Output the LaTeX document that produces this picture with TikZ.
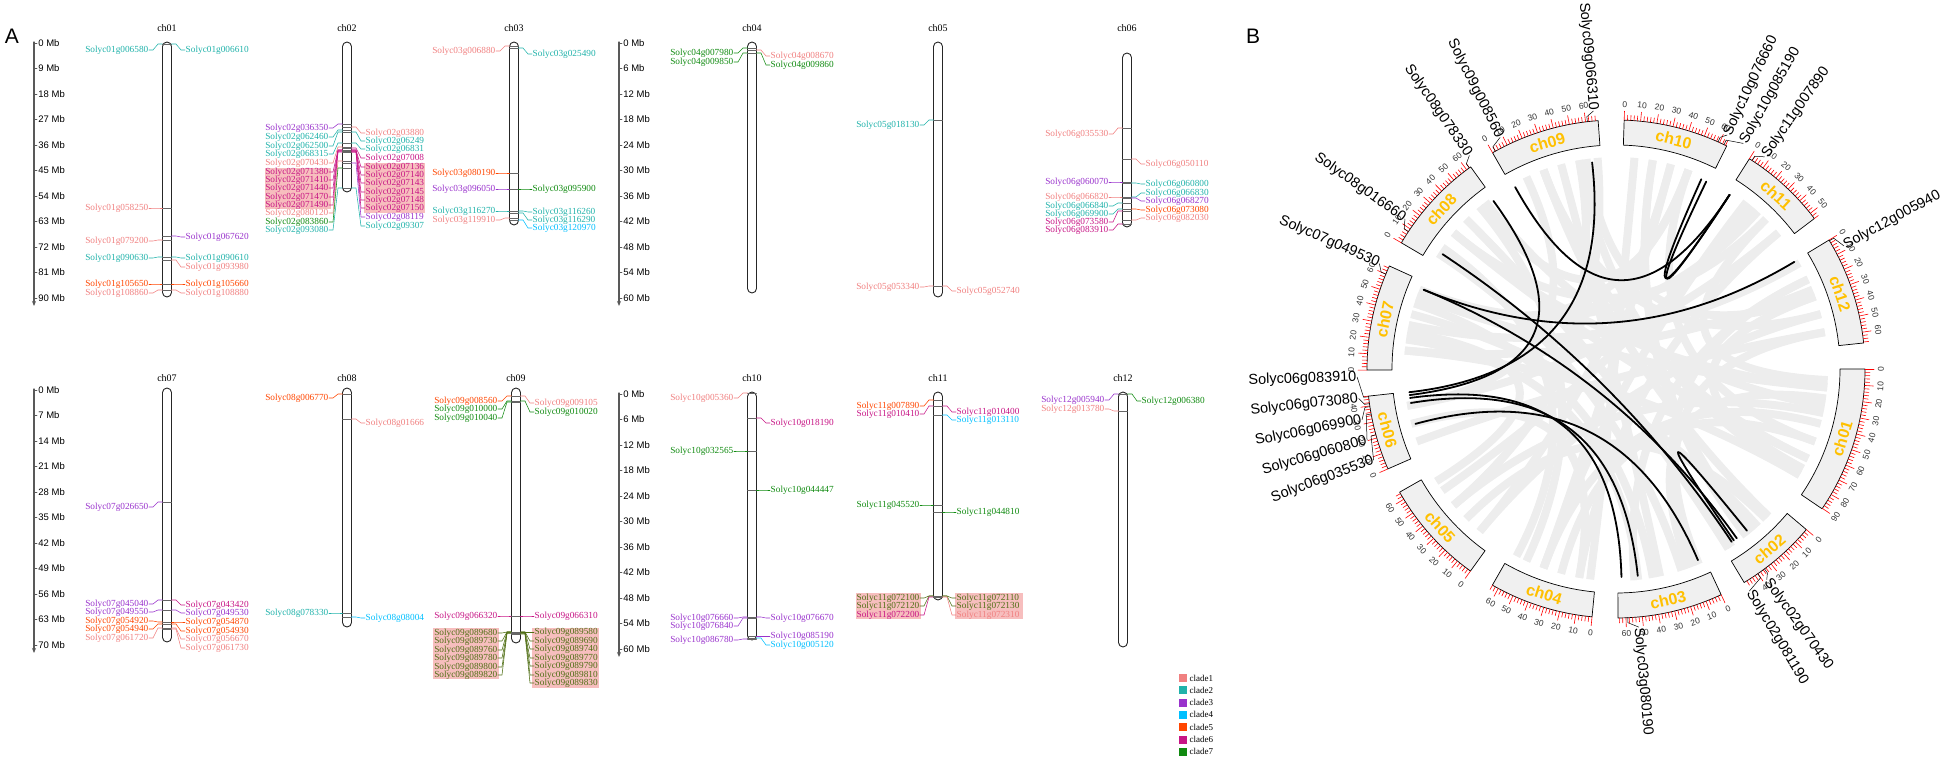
\documentclass[tikz,border=0pt]{standalone}
\usepackage{fontspec}
\setmainfont{Liberation Serif}
\setsansfont{Liberation Sans}
\usetikzlibrary{arrows.meta}
\definecolor{clade1}{HTML}{F08080}
\definecolor{clade2}{HTML}{20B2AA}
\definecolor{clade3}{HTML}{9932CC}
\definecolor{clade4}{HTML}{00BFFF}
\definecolor{clade5}{HTML}{FF4500}
\definecolor{clade6}{HTML}{C71585}
\definecolor{clade7}{HTML}{108A10}
\definecolor{olive7}{HTML}{4F6E14}
\definecolor{hlpink}{HTML}{F7BEBE}
\definecolor{chgold}{HTML}{FFC000}
\begin{document}
\begin{tikzpicture}[x=1pt,y=-1pt,line cap=round,line join=round,
  every node/.style={inner sep=0.5pt},
  chrom/.style={draw=black!85,line width=0.9pt,rounded corners=4.5pt},
  marker/.style={draw=black!60,line width=0.7pt},
  glink/.style={line width=0.55pt},
  gname/.style={font=\fontsize{9.3}{9.3}\selectfont,inner ysep=0pt,
    text height=6.2pt,text depth=1.8pt},
  chtitle/.style={font=\fontsize{10}{10}\selectfont},
  mbaxis/.style={draw=black!65,line width=1.3pt},
  mbtext/.style={font=\sffamily\fontsize{9.5}{9.5}\selectfont,inner sep=1pt},
  legtext/.style={font=\fontsize{9}{9}\selectfont},
  panel/.style={font=\sffamily\fontsize{21}{21}\selectfont},
  ribbon/.style={draw=gray!14,line width=8pt,line cap=butt},
  blink/.style={draw=black,line width=1.8pt},
  ideo/.style={draw=black,fill=black!6,line width=0.7pt},
  rtick/.style={draw=red,line width=0.6pt},
  ticktext/.style={font=\sffamily\fontsize{8.5}{8.5}\selectfont,text=black!80},
  chlabel/.style={font=\sffamily\bfseries\fontsize{16}{16}\selectfont,text=chgold},
  bgene/.style={font=\sffamily\fontsize{14.5}{14.5}\selectfont,inner ysep=0pt,
    text height=10pt,text depth=2pt},
  leader/.style={draw=black,line width=0.5pt}]
  \useasboundingbox (0,0) rectangle (1946,758);

  % ---------------- (A) chromosome map ----------------
  \node[panel] (pA) at (12,36) {A};
  % Mb rulers
  \foreach \ax/\ay/\st in {34/43/9, 619/43/6, 34/390/7, 619/394/6} {
    \draw[mbaxis,-{Stealth[length=5pt,width=4pt]}] (\ax,\ay-1) -- (\ax,\ay+263);
    \foreach \i in {0,...,10} {
      \pgfmathtruncatemacro\mb{\st*\i}
      \draw[mbaxis,line width=0.8pt] (\ax,\ay+25.5*\i) -- ++(3,0)
        node[mbtext,anchor=west] {\mb\ Mb};
    }
  }
  % highlighted tandem groups
  \fill[hlpink] (265,168) rectangle (331,209);
  \fill[hlpink] (364,163) rectangle (425,213);
  \fill[hlpink] (433,628) rectangle (499,679);
  \fill[hlpink] (532,628) rectangle (599,688);
  \fill[hlpink] (856,593) rectangle (921,619);
  \fill[hlpink] (955,593) rectangle (1023,619);
  % chromosomes
  \foreach \nm/\cx/\top/\bot/\ty in {ch01/167/42/297/28, ch02/347/42/192/28,
      ch03/514/42/225/28, ch04/752/42/293/28, ch05/938/42/297/28,
      ch06/1127/53/227/28, ch07/167/388/642/378, ch08/347/388/627/378,
      ch09/516/388/643/378, ch10/752/392/640/378, ch11/938/392/600/378,
      ch12/1123/392/647/378} {
    \draw[chrom] (\cx-4.5,\top) rectangle (\cx+4.5,\bot);
    \node[chtitle] (A-\nm) at (\cx,\ty) {\nm};
  }
  % genes, left side
  \foreach \cx/\gy/\ly/\cl/\nm in {
      167/44/50/clade2/Solyc01g006580, 167/208/208/clade1/Solyc01g058250,
      167/240/241/clade1/Solyc01g079200, 167/257/258/clade2/Solyc01g090630,
      167/284/284/clade5/Solyc01g105650, 167/290/293/clade1/Solyc01g108860,
      347/124/128/clade3/Solyc02g036350, 347/130/137/clade2/Solyc02g062460,
      347/132/146/clade2/Solyc02g062500, 347/143/154/clade2/Solyc02g068315,
      347/147/163/clade1/Solyc02g070430, 347/150/172/clade6/Solyc02g071380,
      347/150/180/clade6/Solyc02g071410, 347/151/188/clade6/Solyc02g071440,
      347/151/197/clade6/Solyc02g071470, 347/152/205/clade6/Solyc02g071490,
      347/161/213/clade1/Solyc02g080120, 347/168/222/clade7/Solyc02g083860,
      347/188/230/clade2/Solyc02g093080,
      514/46/51/clade1/Solyc03g006880, 514/173/173/clade5/Solyc03g080190,
      514/189/189/clade3/Solyc03g096050, 514/211/211/clade2/Solyc03g116270,
      514/218/220/clade1/Solyc03g119910,
      752/48/53/clade7/Solyc04g007980, 752/53/62/clade7/Solyc04g009850,
      938/120/125/clade2/Solyc05g018130, 938/286/287/clade1/Solyc05g053340,
      1127/128/134/clade1/Solyc06g035530, 1127/182/182/clade3/Solyc06g060070,
      1127/197/197/clade1/Solyc06g066820, 1127/203/206/clade2/Solyc06g066840,
      1127/209/214/clade2/Solyc06g069900, 1127/211/222/clade6/Solyc06g073580,
      1127/224/230/clade6/Solyc06g083910,
      167/502/507/clade3/Solyc07g026650, 167/600/604/clade3/Solyc07g045040,
      167/610/612/clade3/Solyc07g049550, 167/622/621/clade5/Solyc07g054920,
      167/624/629/clade5/Solyc07g054940, 167/628/638/clade1/Solyc07g061720,
      347/394/398/clade5/Solyc08g006770, 347/613/613/clade2/Solyc08g078330,
      516/396/401/clade5/Solyc09g008560, 516/401/409/clade7/Solyc09g010000,
      516/402/418/clade7/Solyc09g010040, 516/616/616/clade6/Solyc09g066320,
      516/632/633/olive7/Solyc09g089680, 516/632/641/olive7/Solyc09g089730,
      516/632/650/olive7/Solyc09g089760, 516/633/658/olive7/Solyc09g089780,
      516/633/667/olive7/Solyc09g089800, 516/633/675/olive7/Solyc09g089820,
      752/393/398/clade1/Solyc10g005360, 752/451/451/clade7/Solyc10g032565,
      752/617/618/clade3/Solyc10g076660, 752/618/626/clade3/Solyc10g076840,
      752/639/640/clade3/Solyc10g086780,
      938/400/406/clade5/Solyc11g007890, 938/406/414/clade6/Solyc11g010410,
      938/505/505/clade7/Solyc11g045520, 938/596/598/olive7/Solyc11g072100,
      938/596/606/olive7/Solyc11g072120, 938/597/615/clade6/Solyc11g072200,
      1123/394/400/clade3/Solyc12g005940, 1123/411/409/clade1/Solyc12g013780} {
    \coordinate (m\nm) at (\cx-4.5,\gy);
    \draw[marker] (\cx-4.5,\gy) -- (\cx+4.5,\gy);
    \node[gname,text=\cl,anchor=east] (\nm) at (\cx-18,\ly) {\nm};
    \draw[glink,draw=\cl] (\nm.east) -- ++(4,0) -- (\cx-9,\gy) -- (m\nm);
  }
  % genes, right side
  \foreach \cx/\gy/\ly/\cl/\nm in {
      167/44/50/clade2/Solyc01g006610, 167/236/237/clade3/Solyc01g067620,
      167/257/258/clade2/Solyc01g090610, 167/260/267/clade1/Solyc01g093980,
      167/284/284/clade5/Solyc01g105660, 167/290/293/clade1/Solyc01g108880,
      347/127/133/clade1/Solyc02g03880, 347/132/141/clade2/Solyc02g06249,
      347/143/149/clade2/Solyc02g06831, 347/148/158/clade6/Solyc02g07008,
      347/150/167/clade6/Solyc02g07136, 347/150/175/clade6/Solyc02g07140,
      347/151/183/clade6/Solyc02g07143, 347/151/192/clade6/Solyc02g07145,
      347/152/200/clade6/Solyc02g07148, 347/152/208/clade6/Solyc02g07150,
      347/163/217/clade3/Solyc02g08119, 347/188/226/clade2/Solyc02g09307,
      514/48/54/clade2/Solyc03g025490, 514/189/189/clade7/Solyc03g095900,
      514/211/212/clade2/Solyc03g116260, 514/213/220/clade2/Solyc03g116290,
      514/220/228/clade4/Solyc03g120970,
      752/50/56/clade1/Solyc04g008670, 752/53/65/clade7/Solyc04g009860,
      938/286/291/clade1/Solyc05g052740,
      1127/159/164/clade1/Solyc06g050110, 1127/183/184/clade2/Solyc06g060800,
      1127/197/193/clade2/Solyc06g066830, 1127/198/201/clade3/Solyc06g068270,
      1127/209/210/clade5/Solyc06g073080, 1127/220/218/clade1/Solyc06g082030,
      167/600/605/clade6/Solyc07g043420, 167/610/613/clade3/Solyc07g049530,
      167/622/622/clade5/Solyc07g054870, 167/624/631/clade5/Solyc07g054930,
      167/628/639/clade1/Solyc07g056670, 167/629/648/clade1/Solyc07g061730,
      347/419/423/clade1/Solyc08g01666, 347/617/618/clade4/Solyc08g08004,
      516/396/403/clade1/Solyc09g009105, 516/401/412/clade7/Solyc09g010020,
      516/616/616/clade6/Solyc09g066310,
      516/632/632/olive7/Solyc09g089580, 516/632/641/olive7/Solyc09g089690,
      516/632/649/olive7/Solyc09g089740, 516/633/658/olive7/Solyc09g089770,
      516/633/666/olive7/Solyc09g089790, 516/633/675/olive7/Solyc09g089810,
      516/634/683/olive7/Solyc09g089830,
      752/418/423/clade6/Solyc10g018190, 752/490/490/clade7/Solyc10g044447,
      752/617/618/clade3/Solyc10g076670, 752/636/636/clade3/Solyc10g085190,
      752/638/645/clade4/Solyc10g005120,
      938/406/412/clade6/Solyc11g010400, 938/415/420/clade4/Solyc11g013110,
      938/512/512/clade7/Solyc11g044810, 938/596/598/olive7/Solyc11g072110,
      938/596/606/olive7/Solyc11g072130, 938/597/615/clade1/Solyc11g072310,
      1123/394/401/clade7/Solyc12g006380} {
    \coordinate (m\nm) at (\cx+4.5,\gy);
    \draw[marker] (\cx-4.5,\gy) -- (\cx+4.5,\gy);
    \node[gname,text=\cl,anchor=west] (\nm) at (\cx+18,\ly) {\nm};
    \draw[glink,draw=\cl] (\nm.west) -- ++(-4,0) -- (\cx+9,\gy) -- (m\nm);
  }
  % legend
  \foreach \i in {1,...,7} {
    \fill[clade\i] (1179,674+12.3*\i-12.3) rectangle ++(8,8);
    \node[legtext,anchor=west] (leg\i) at (1189,678+12.3*\i-12.3) {clade\i};
  }

  % ---------------- (B) circos plot ----------------
  \node[panel] (pB) at (1253,36) {B};
  \begin{scope}[shift={(1616,369)},x=1pt,y=1pt]
    % background collinear pairs
    \foreach \a/\b in {-5/160, -10/128, -15/-110, -20/70, -25/140, -30/100,
        -3/45, -8/-70, -12/-140, -28/20, -44/110, -48/165, -52/80, -57/135,
        -68/25, -72/147, -78/105, -84/172, -100/40, -105/-20, -110/75,
        -115/130, -130/15, -135/-45, -140/95, -145/50, -148/170, -160/10,
        -165/-100, -170/115, 175/-30, 168/30, 162/-80, 158/48, 145/-118,
        140/-5, 135/-58, 130/70, 110/-25, 100/-140, 98/20, 85/-97, 80/-50,
        75/-130, 70/160, 52/-110, 45/140, 40/-170, 25/-85, 15/110, 10/-67,
        22/175}
      \draw[ribbon] (\a:212) .. controls (\a:70) and (\b:70) .. (\b:212);
    % highlighted pairs
    \foreach \a/\b in {186.4/96.6, 187.2/126.1, 188/-88.5, 189.4/-84,
        195.3/-66.8, 119/56.9, 65.8/56.9, 64.3/56.9, 146.5/-56.2, 157.6/31,
        157.6/-54.5, -51/-55.5}
      \draw[blink] (\a:208) .. controls (\a:69) and (\b:69) .. (\b:208);
    % ideogram with Mb ticks
    \foreach \st/\len/\nm in {0/90.3/01, -40.15/49.9/02, -65.02/64.8/03,
        -95.53/64.1/04, -125.77/65.0/05, -156.35/46.0/06, -179.75/65.3/07,
        -210.45/63.0/08, -240.28/67.7/09, -271.88/64.8/10, -302.39/54.0/11,
        -328.81/66.6/12} {
      \pgfmathsetmacro\en{\st-0.3782*\len}
      \draw[ideo] (\st:224) arc[start angle=\st,end angle=\en,radius=224]
        -- (\en:249) arc[start angle=\en,end angle=\st,radius=249] -- cycle;
      \pgfmathtruncatemacro\mx{2*floor(\len/2)}
      \foreach \m in {0,2,...,\mx} {
        \pgfmathsetmacro\t{\st-0.3782*\m}
        \pgfmathtruncatemacro\isbig{mod(\m,10)==0}
        \ifnum\isbig=1
          \pgfmathsetmacro\tn{\t<=-180 ? \t+360 : \t}
          \pgfmathsetmacro\rt{\tn>0 ? \tn-90 : \tn+90}
          \draw[rtick] (\t:249) -- (\t:258);
          \node[ticktext,rotate=\rt] at (\t:265) {\m};
        \else
          \draw[rtick] (\t:249) -- (\t:254);
        \fi
      }
      \pgfmathsetmacro\md{(\st+\en)/2}
      \pgfmathsetmacro\mn{\md<=-180 ? \md+360 : \md}
      \pgfmathsetmacro\rm{\mn>0 ? \mn-90 : \mn+90}
      \node[chlabel,rotate=\rm] (B-ch\nm) at (\md:236.5) {ch\nm};
    }
    % gene labels, right half
    \foreach \nm/\ga/\la in {Solyc10g076660/65.8/64.6,
        Solyc10g085190/64.3/60.6, Solyc11g007890/56.9/55,
        Solyc12g005940/31/28.4, Solyc02g070430/-53.4/-54.4,
        Solyc02g081190/-55.3/-59, Solyc03g080190/-87.3/-85} {
      \node[bgene,anchor=west,rotate=\la] (b\nm) at (\la:259) {\nm};
      \draw[leader] (\ga:249) -- (\ga:254) -- (b\nm.west);
    }
    % gene labels, left half
    \foreach \nm/\ga/\la in {Solyc09g066310/96.6/95,
        Solyc09g008560/119/116.6, Solyc08g078330/126.1/124.5,
        Solyc08g016660/146.5/144.6, Solyc07g049530/157.6/156,
        Solyc06g083910/186.4/181.8, Solyc06g073080/188/186.5,
        Solyc06g069900/188.7/191.3, Solyc06g060800/190.4/196,
        Solyc06g035530/195.3/200.6} {
      \pgfmathsetmacro\rr{\la+180}
      \node[bgene,anchor=east,rotate=\rr] (b\nm) at (\la:259) {\nm};
      \draw[leader] (\ga:249) -- (\ga:254) -- (b\nm.east);
    }
  \end{scope}
\end{tikzpicture}
\end{document}
